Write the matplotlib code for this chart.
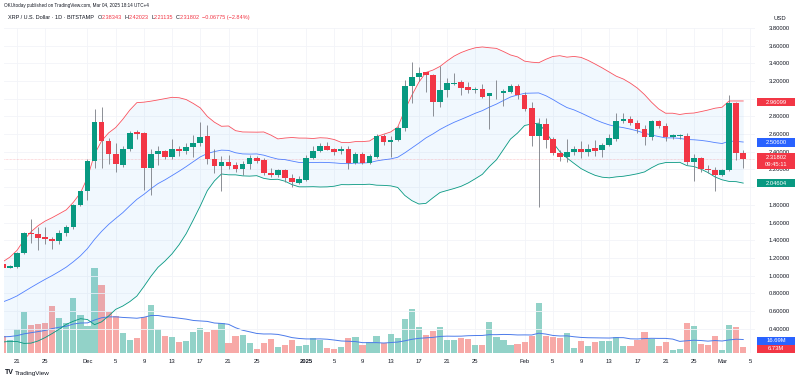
import numpy as np
import pandas as pd
import matplotlib
matplotlib.use("Agg")
import matplotlib.pyplot as plt
from matplotlib.patches import Rectangle

plt.rcParams["font.family"] = ["Liberation Sans", "DejaVu Sans"]

# XRP/USD daily, Bitstamp, 2024-11-19 .. 2025-03-04
START = "2024-11-19"
opens = [1.13, 1.09, 1.10, 1.25, 1.477, 1.47, 1.44, 1.41, 1.39, 1.477, 1.545, 1.80,
         1.958, 2.30, 2.734, 2.52, 2.37, 2.245, 2.433, 2.62, 2.607, 2.218, 2.376, 2.405,
         2.34, 2.436, 2.41, 2.449, 2.494, 2.576, 2.316, 2.24, 2.28, 2.249, 2.207, 2.26,
         2.33, 2.305, 2.155, 2.14, 2.192, 2.098, 2.05, 2.08, 2.331, 2.407, 2.463, 2.43,
         2.41, 2.43, 2.275, 2.38, 2.275, 2.342, 2.58, 2.51, 2.53, 2.667, 3.149, 3.246,
         3.30, 3.273, 2.96, 3.10, 3.17, 3.186, 3.13, 3.10, 3.115, 3.03, 3.06, 3.07,
         3.077, 3.14, 3.04, 2.89, 2.58, 2.71, 2.54, 2.387, 2.336, 2.40, 2.43, 2.40,
         2.44, 2.418, 2.475, 2.55, 2.746, 2.77, 2.73, 2.663, 2.568, 2.746, 2.69, 2.57,
         2.58, 2.58, 2.282, 2.328, 2.20, 2.19, 2.14, 2.192, 2.953, 2.38343]
highs = [1.17, 1.12, 1.27, 1.49, 1.64, 1.55, 1.55, 1.44, 1.52, 1.57, 1.81, 1.96,
         2.32, 2.88, 2.907, 2.56, 2.50, 2.46, 2.64, 2.65, 2.62, 2.43, 2.46, 2.42,
         2.55, 2.47, 2.50, 2.59, 2.738, 2.70, 2.43, 2.35, 2.36, 2.29, 2.30, 2.36,
         2.35, 2.33, 2.22, 2.21, 2.21, 2.15, 2.13, 2.36, 2.46, 2.50, 2.51, 2.44,
         2.46, 2.46, 2.40, 2.40, 2.38, 2.60, 2.60, 2.58, 2.69, 3.21, 3.41, 3.36,
         3.30, 3.28, 3.37, 3.24, 3.29, 3.21, 3.19, 3.13, 3.17, 3.07, 3.217, 3.11,
         3.17, 3.17, 3.08, 2.96, 2.78, 2.78, 2.57, 2.42, 2.546, 2.46, 2.52, 2.49,
         2.53, 2.50, 2.60, 2.84, 2.84, 2.81, 2.76, 2.70, 2.76, 2.76, 2.72, 2.60,
         2.60, 2.61, 2.37, 2.34, 2.25, 2.23, 2.20, 3.04, 2.96, 2.42023]
lows = [1.06, 1.08, 1.08, 1.24, 1.37, 1.29, 1.36, 1.30, 1.36, 1.45, 1.53, 1.79,
        1.85, 2.22, 2.22, 2.26, 2.17, 2.23, 2.41, 2.55, 1.966, 1.91, 2.25, 2.32,
        2.32, 2.35, 2.38, 2.34, 2.47, 2.26, 2.16, 1.958, 2.20, 2.17, 2.14, 2.21,
        2.27, 2.14, 2.11, 2.12, 2.06, 2.003, 2.03, 2.07, 2.32, 2.40, 2.42, 2.36,
        2.38, 2.21, 2.26, 2.26, 2.26, 2.33, 2.48, 2.336, 2.52, 2.64, 2.95, 3.20,
        3.08, 2.81, 2.91, 3.02, 3.15, 3.04, 3.06, 3.07, 3.01, 2.663, 3.00, 2.915,
        3.06, 3.00, 2.86, 2.463, 1.777, 2.44, 2.36, 2.30, 2.28, 2.36, 2.33, 2.35,
        2.35, 2.34, 2.46, 2.52, 2.73, 2.70, 2.61, 2.475, 2.53, 2.67, 2.52, 2.55,
        2.54, 2.25, 2.07, 2.17, 2.16, 1.958, 2.13, 2.18, 2.31, 2.21135]
closes = [1.08, 1.107, 1.25, 1.477, 1.465, 1.43, 1.41, 1.39, 1.477, 1.55, 1.80, 1.958,
          2.30, 2.734, 2.52, 2.37, 2.26, 2.437, 2.618, 2.60, 2.218, 2.376, 2.405, 2.34,
          2.436, 2.41, 2.449, 2.494, 2.568, 2.316, 2.24, 2.28, 2.24, 2.20, 2.26, 2.328,
          2.30, 2.155, 2.14, 2.19, 2.098, 2.053, 2.09, 2.335, 2.406, 2.463, 2.425, 2.40,
          2.43, 2.275, 2.38, 2.275, 2.35, 2.58, 2.51, 2.53, 2.674, 3.149, 3.246, 3.295,
          3.27, 2.96, 3.10, 3.178, 3.18, 3.122, 3.10, 3.11, 3.02, 3.07, 3.07, 3.09,
          3.14, 3.04, 2.88, 2.58, 2.71, 2.53, 2.387, 2.336, 2.40, 2.43, 2.40, 2.43,
          2.41, 2.48, 2.56, 2.746, 2.77, 2.73, 2.663, 2.568, 2.746, 2.695, 2.568, 2.585,
          2.59, 2.28, 2.328, 2.20, 2.19, 2.14, 2.19, 2.953, 2.38577, 2.31802]
volumes_m = [21.0, 15.9, 29.3, 51.0, 34.7, 36.0, 37.6, 59.0, 43.1, 37.6, 68.2, 47.3,
             33.5, 106.7, 84.9, 51.5, 46.4, 25.1, 15.9, 18.8, 45.2, 59.8, 29.7, 20.9,
             19.2, 13.4, 15.1, 25.5, 31.0, 25.9, 28.0, 36.8, 12.1, 20.9, 21.8, 11.7,
             5.0, 12.1, 16.7, 7.1, 9.6, 15.9, 7.9, 9.2, 18.0, 15.9, 6.3, 5.0,
             7.5, 18.4, 20.1, 10.0, 13.0, 20.9, 11.7, 23.4, 18.0, 42.2, 54.8, 31.8,
             22.2, 27.2, 32.2, 15.9, 15.9, 18.0, 17.2, 9.6, 9.2, 38.5, 19.7, 15.9,
             10.0, 10.9, 13.4, 20.9, 62.7, 20.9, 20.1, 18.4, 24.7, 5.4, 15.1, 8.4,
             13.4, 15.1, 15.1, 19.7, 8.4, 8.8, 16.3, 25.9, 16.7, 8.4, 13.8, 3.3,
             5.0, 36.8, 33.5, 10.9, 9.6, 20.5, 3.3, 35.1, 31.8, 6.73]

# 19 sessions before the first visible one (estimated), only used to seed the 20-day windows
prior_closes = [0.50, 0.51, 0.51, 0.50, 0.50, 0.51, 0.54, 0.55, 0.56, 0.59,
                0.62, 0.65, 0.67, 0.71, 0.79, 0.91, 1.14, 1.07, 1.13]
prior_volumes_m = [8, 7, 6, 6, 8, 9, 12, 10, 11, 14, 22, 30, 35, 28, 30, 45, 40, 25, 30]

tick_dates = ["2024-11-21", "2024-11-25", "2024-12-01", "2024-12-05", "2024-12-09",
              "2024-12-13", "2024-12-17", "2024-12-21", "2024-12-25", "2025-01-01",
              "2025-01-05", "2025-01-09", "2025-01-13", "2025-01-17", "2025-01-21",
              "2025-01-25", "2025-02-01", "2025-02-05", "2025-02-09", "2025-02-13",
              "2025-02-17", "2025-02-21", "2025-02-25", "2025-03-01", "2025-03-05"]
tick_labels = ["21", "25", "Dec", "5", "9", "13", "17", "21", "25", "2025", "5", "9",
               "13", "17", "21", "25", "Feb", "5", "9", "13", "17", "21", "25", "Mar", "5"]

# right-hand price / volume tags as shown
tag_upper, tag_mid, tag_lower = 2.96099, 2.50600, 2.04604
tag_close, tag_timer = 2.31802, "09:45:11"
tag_vol_ma, tag_vol = 16.69, 6.73

GREEN, RED, BLUE = "#089981", "#F23645", "#2962FF"
TXT = "#131722"

o, h, l, c = map(np.array, (opens, highs, lows, closes))
vol = np.array(volumes_m)
x = np.arange(len(c))
up = c >= o

allc = pd.Series(prior_closes + closes)
mid = allc.rolling(20).mean().to_numpy()[-len(c):]
sd = allc.rolling(20).std(ddof=0).to_numpy()[-len(c):]
upper, lower = mid + 2 * sd, mid - 2 * sd
vol_ma = pd.Series(prior_volumes_m + volumes_m).rolling(20).mean().to_numpy()[-len(c):]

W, H = 800, 381
fig = plt.figure(figsize=(W / 100, H / 100), dpi=100)
fig.patch.set_facecolor("white")
rect = [4 / W, (H - 353) / H, (755 - 4) / W, (353 - 28) / H]
axv = fig.add_axes(rect)
ax = fig.add_axes(rect, sharex=axv)
ax.patch.set_visible(False)

start = pd.Timestamp(START)
tpos = [(pd.Timestamp(d) - start).days for d in tick_dates]

# volume pane (overlay at the bottom)
axv.bar(x, vol, width=0.88, color=np.where(up, "#92D2C8", "#F7A9A7"), zorder=2)
axv.plot(x, vol_ma, color="#4C7BEA", lw=0.7, zorder=3)
axv.set_ylim(-0.4, 407)
axv.set_yticks([])
for xt in tpos:
    axv.axvline(xt, color="#F2F4F8", lw=0.6, zorder=0)
for s in axv.spines.values():
    s.set_visible(False)

# Bollinger bands
ax.fill_between(x, lower, upper, color="#2196F3", alpha=0.06, lw=0, zorder=1)
ax.plot(x, upper, color="#F7525F", lw=0.6, zorder=2)
ax.plot(x, mid, color=BLUE, lw=0.6, alpha=0.8, zorder=2)
ax.plot(x, lower, color=GREEN, lw=0.6, zorder=2)

# candles
ax.vlines(x, l, h, color="#7a7d85", lw=0.6, zorder=3)
body = np.maximum(np.abs(c - o), 0.008)
ax.bar(x, body, bottom=np.minimum(o, c), width=0.8,
       color=np.where(up, GREEN, RED), lw=0, zorder=4)
ax.axhline(tag_close, color=RED, lw=0.5, alpha=0.35, ls=(0, (1, 1)), zorder=1)

ax.set_xlim(0.16, 106.67)
ax.set_ylim(0.124, 3.797)
yt = np.round(np.arange(0.4, 3.81, 0.2), 1)
ax.set_yticks(yt)
for v in yt:
    ax.axhline(v, color="#F2F4F8", lw=0.6, zorder=0)
# price labels that sit under a tag are hidden, as on the chart
tags_price = [tag_upper, tag_mid, tag_close, tag_lower]
ax.set_yticklabels(["" if min(abs(v - t) for t in tags_price) < 0.07 else f"{v:.5f}"
                    for v in yt])
ax.yaxis.tick_right()
ax.tick_params(axis="y", length=0, pad=10, labelsize=4.2, labelcolor=TXT)
ax.set_xticks(tpos)
ax.set_xticklabels(tick_labels)
ax.tick_params(axis="x", length=0, pad=4, labelsize=4.2, labelcolor=TXT)
for lab in ax.get_xticklabels():
    if lab.get_text() == "2025":
        lab.set_fontweight("bold")
axv.tick_params(axis="x", labelbottom=False, length=0)
for s in ax.spines.values():
    s.set_visible(False)


def tag(axis, val, text, color, h_px=8.5, dy=0.0, extra=None):
    yd = axis.transData.transform((0, val))[1]
    yf = fig.transFigure.inverted().transform((0, yd))[1] - dy / H
    top = yf + 4.25 / H
    fig.patches.append(Rectangle((757 / W, top - h_px / H), 38 / W, h_px / H,
                                 transform=fig.transFigure, fc=color, ec="none", zorder=5))
    fig.text(776 / W, yf, text, color="white", fontsize=4.2, ha="center", va="center",
             zorder=6)
    if extra:
        fig.text(776 / W, yf - 7 / H, extra, color="white", fontsize=4.2,
                 ha="center", va="center", zorder=6)


tag(ax, tag_upper, f"{tag_upper:.5f}", RED)
tag(ax, tag_mid, f"{tag_mid:.5f}", BLUE)
tag(ax, tag_close, f"{tag_close:.5f}", RED, h_px=16, dy=-2, extra=tag_timer)
tag(ax, tag_lower, f"{tag_lower:.5f}", GREEN)
tag(axv, tag_vol_ma, f"{tag_vol_ma:.2f}M", BLUE, dy=1.5)
tag(axv, tag_vol, f"{tag_vol:.2f}M", RED, dy=1.5)

fig.text(780 / W, 1 - 18 / H, "USD", fontsize=4.2, color=TXT, ha="center", va="center")
fig.text(4 / W, 1 - 6 / H, "OKUtoday published on TradingView.com, Mar 04, 2025 18:14 UTC+4",
         fontsize=3.3, color=TXT, va="center")

# legend row: pieces laid out one after another from their rendered widths
renderer = fig.canvas.get_renderer()
chg = closes[-1] - closes[-2]
row = [("XRP / U.S. Dollar \u00b7 1D \u00b7 BITSTAMP", TXT, 3.5),
       ("O", TXT, 0), (f"{opens[-1]:.5f}", RED, 2.5),
       ("H", TXT, 0), (f"{highs[-1]:.5f}", RED, 2.5),
       ("L", TXT, 0), (f"{lows[-1]:.5f}", RED, 2.5),
       ("C", TXT, 0), (f"{closes[-1]:.5f}", RED, 2.5),
       (f"\u2212{abs(chg):.5f} (\u2212{abs(chg) / closes[-2] * 100:.2f}%)", RED, 0)]
px = 8.0
for txt, col, gap in row:
    t = fig.text(px / W, 1 - 17.5 / H, txt, fontsize=4.0, color=col, va="center")
    px += t.get_window_extent(renderer).width + gap

fig.text(5 / W, 1 - 373 / H, "TV", fontsize=5, fontweight="bold", color=TXT, va="center")
fig.text(15 / W, 1 - 373 / H, "TradingView", fontsize=4.6, color=TXT, va="center")

fig.savefig("out.png", dpi=100, facecolor="white")
